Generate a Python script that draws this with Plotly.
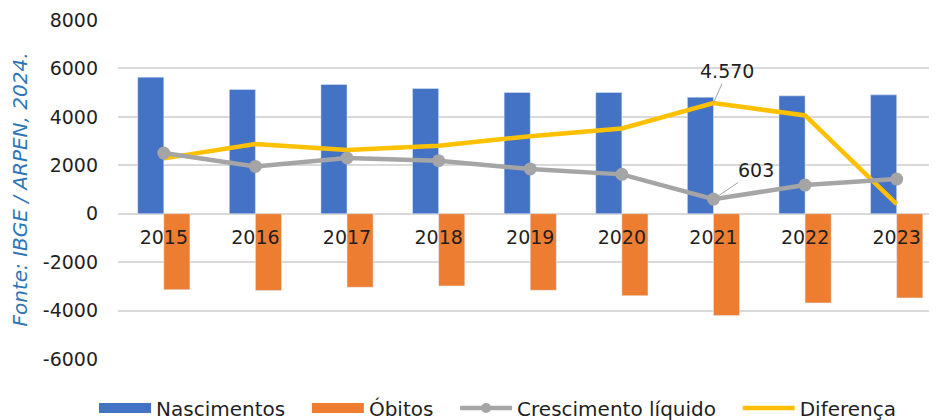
import plotly.graph_objects as go

anos = ["2015", "2016", "2017", "2018", "2019", "2020", "2021", "2022", "2023"]
nascimentos = [5640, 5131, 5338, 5173, 5008, 5008, 4811, 4868, 4909]
obitos = [-3135, -3176, -3037, -2983, -3160, -3383, -4208, -3684, -3478]
crescimento = [2505, 1955, 2301, 2190, 1848, 1625, 603, 1184, 1431]
diferenca = [2285, 2875, 2628, 2805, 3200, 3523, 4570, 4059, 400]
y_ticks = [-6000, -4000, -2000, 0, 2000, 4000, 6000, 8000]
y_ticktext = [str(v) for v in y_ticks]

BLUE = "#4472C4"
ORANGE = "#ED7D31"
GRAY = "#A5A5A5"
YELLOW = "#FFC000"
FONT = "DejaVu Sans"
TXT = "#1F1F1F"
PAD = "\u00a0\u00a0\u2009"

fig = go.Figure()
fig.add_trace(go.Bar(x=anos, y=nascimentos, name="Nascimentos", marker_color=BLUE,
                     offsetgroup="a", showlegend=False))
fig.add_trace(go.Bar(x=anos, y=obitos, name="Óbitos", marker_color=ORANGE,
                     offsetgroup="b", showlegend=False))
fig.add_trace(go.Scatter(x=anos, y=diferenca, name="Diferença", mode="lines",
                         line=dict(color=YELLOW, width=4.5), showlegend=False))
fig.add_trace(go.Scatter(x=anos, y=crescimento, name="Crescimento líquido", mode="lines+markers",
                         line=dict(color=GRAY, width=4.5), marker=dict(size=13, color=GRAY),
                         showlegend=False))

# legend entries
fig.add_trace(go.Scatter(x=[None], y=[None], name="Nascimentos" + PAD, mode="lines",
                         line=dict(color=BLUE, width=12)))
fig.add_trace(go.Scatter(x=[None], y=[None], name="Óbitos" + PAD, mode="lines",
                         line=dict(color=ORANGE, width=12)))
fig.add_trace(go.Scatter(x=[None], y=[None], name="Crescimento líquido" + PAD, mode="lines+markers",
                         line=dict(color=GRAY, width=4.5), marker=dict(size=10, color=GRAY)))
fig.add_trace(go.Scatter(x=[None], y=[None], name="Diferença", mode="lines",
                         line=dict(color=YELLOW, width=4.5)))

i21 = anos.index("2021")
fig.add_annotation(x=i21, y=diferenca[i21], text=f"{diferenca[i21]:,}".replace(",", "."),
                   showarrow=True, arrowhead=0, arrowwidth=1, arrowcolor="#A6A6A6",
                   ax=14, ay=-32, font=dict(family=FONT, size=19, color=TXT))
fig.add_annotation(x=i21, y=crescimento[i21], text=f"{crescimento[i21]}",
                   showarrow=True, arrowhead=0, arrowwidth=1, arrowcolor="#A6A6A6",
                   ax=43, ay=-29, font=dict(family=FONT, size=19, color=TXT))

# page body has an 8px margin: figure drawn at (8, 8)
fig.update_layout(
    width=929, height=412,
    margin=dict(l=110, r=0, t=12, b=61),
    plot_bgcolor="white", paper_bgcolor="white",
    barmode="group", bargap=0.43, bargroupgap=0,
    font=dict(family=FONT, size=19, color=TXT),
    legend=dict(orientation="h", xref="container", x=0.0926, xanchor="left",
                yref="container", y=0.029, yanchor="middle",
                itemwidth=52, font=dict(family=FONT, size=20, color=TXT),
                tracegroupgap=0),
    showlegend=True,
)
fig.update_xaxes(type="category", range=[-0.5, 8.44], anchor="free", position=6/14,
                 showgrid=False, showline=False, ticks="", ticklabelstandoff=10,
                 automargin=False, tickfont=dict(family=FONT, size=19, color=TXT))
fig.update_yaxes(range=[-6000, 8000], tickvals=y_ticks, ticktext=y_ticktext,
                 showgrid=True, gridcolor="#D9D9D9",
                 gridwidth=1.5, zeroline=False, showline=False, ticks="",
                 ticklabelstandoff=19, automargin=False,
                 tickfont=dict(family=FONT, size=19, color=TXT),
                 title=dict(text="Fonte: IBGE / ARPEN, 2024.", standoff=20,
                            font=dict(family=FONT, size=20, color="#2E75B6", style="italic")))

fig.write_html("out.html")
